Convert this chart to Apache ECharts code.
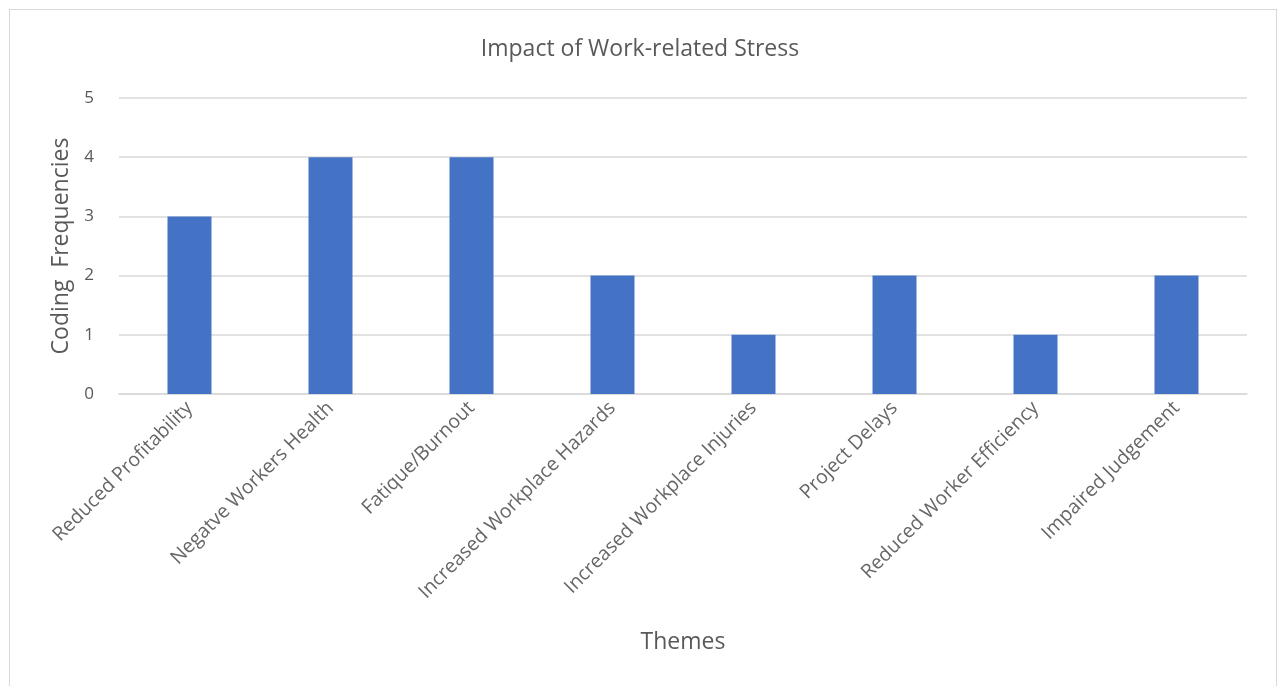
<!DOCTYPE html>
<html>
<head>
<meta charset="utf-8">
<script src="https://cdn.jsdelivr.net/npm/echarts@6/dist/echarts.min.js"></script>
<style>
html,body{margin:0;padding:0;background:#fff;}
#frame{position:absolute;left:9px;top:9px;width:1268px;height:700px;border:1px solid #d9d9d9;box-sizing:border-box;}
#chart{position:absolute;left:0;top:0;width:1280px;height:686px;}
</style>
</head>
<body>
<div id="frame"></div>
<div id="chart"></div>
<script>
const categories = ["Reduced Profitability","Negatve Workers Health","Fatique/Burnout","Increased Workplace Hazards","Increased Workplace Injuries","Project Delays","Reduced Worker Efficiency","Impaired Judgement"];
const values = [3,4,4,2,1,2,1,2];
const yTicks = [0,1,2,3,4,5];

const chart = echarts.init(document.getElementById('chart'));
const font = "Open Sans";
chart.setOption({
  animation:false,
  title:{text:"Impact of Work-related Stress",left:'center',top:33,textStyle:{fontFamily:font,fontSize:23,fontWeight:'normal',color:'#595959'}},
  grid:{left:119,right:33,top:98,bottom:292,containLabel:false},
  xAxis:{type:'category',data:categories,
    name:'Themes',nameLocation:'middle',nameGap:237,
    nameTextStyle:{fontFamily:font,fontSize:23,color:'#595959'},
    axisLine:{lineStyle:{color:'#d9d9d9',width:1.5}},axisTick:{show:false},
    axisLabel:{rotate:45,interval:0,margin:11,fontFamily:font,fontSize:19.5,color:'#666666'}},
  yAxis:{type:'value',min:0,max:5,interval:1,
    name:'Coding  Frequencies',nameLocation:'middle',nameGap:44,
    nameTextStyle:{fontFamily:font,fontSize:23,color:'#595959'},
    axisLine:{show:false},axisTick:{show:false},
    axisLabel:{margin:25,fontFamily:font,fontSize:17,color:'#595959',formatter:v=>yTicks.includes(v)?String(v):''},
    splitLine:{lineStyle:{color:'#d9d9d9',width:1.5}}},
  series:[{type:'bar',data:values,barWidth:44,itemStyle:{color:'#4472c4'}}]
});
</script>
</body>
</html>
